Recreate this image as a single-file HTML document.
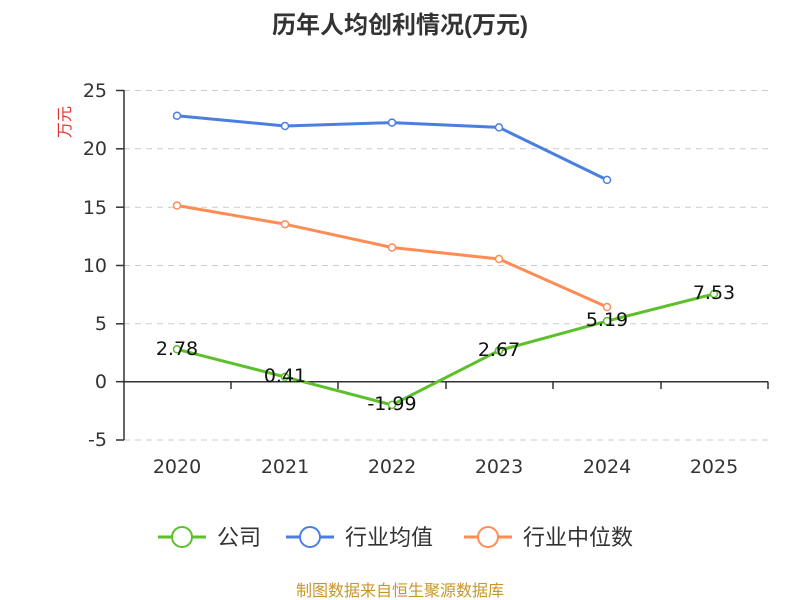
<!DOCTYPE html>
<html><head><meta charset="utf-8"><style>body{margin:0;background:#fff}svg{display:block}</style></head><body>
<svg width="800" height="600" xmlns="http://www.w3.org/2000/svg" font-family="Liberation Sans, Noto Sans CJK SC, sans-serif">
<text x="400" y="33" text-anchor="middle" font-size="24" font-weight="bold" fill="#333">历年人均创利情况(万元)</text>
<text x="70" y="122" font-size="16" fill="#e03030" text-anchor="middle" transform="rotate(-90 70 122)">万元</text>
<g stroke="#ccc" stroke-dasharray="6,5" stroke-width="1">
<line x1="124" x2="768" y1="90.5" y2="90.5"/><line x1="124" x2="768" y1="148.8" y2="148.8"/><line x1="124" x2="768" y1="207.2" y2="207.2"/><line x1="124" x2="768" y1="265.5" y2="265.5"/><line x1="124" x2="768" y1="323.8" y2="323.8"/><line x1="124" x2="768" y1="440" y2="440"/>
</g>
<g stroke="#333" stroke-width="1.5">
<line x1="124" x2="124" y1="90" y2="440"/><line x1="124" x2="768" y1="381.7" y2="381.7"/>
<line x1="116" x2="124" y1="90.5" y2="90.5"/><line x1="116" x2="124" y1="148.8" y2="148.8"/><line x1="116" x2="124" y1="207.2" y2="207.2"/><line x1="116" x2="124" y1="265.5" y2="265.5"/><line x1="116" x2="124" y1="323.8" y2="323.8"/><line x1="116" x2="124" y1="381.7" y2="381.7"/><line x1="116" x2="124" y1="440" y2="440"/>
<line x1="231" x2="231" y1="381.7" y2="389"/><line x1="338" x2="338" y1="381.7" y2="389"/><line x1="446" x2="446" y1="381.7" y2="389"/><line x1="553" x2="553" y1="381.7" y2="389"/><line x1="661" x2="661" y1="381.7" y2="389"/><line x1="768" x2="768" y1="381.7" y2="389"/>
</g>
<g font-size="19" fill="#333" text-anchor="end" font-family="DejaVu Sans, sans-serif">
<text x="107" y="97">25</text><text x="107" y="155">20</text><text x="107" y="214">15</text><text x="107" y="272">10</text><text x="107" y="330">5</text><text x="107" y="388">0</text><text x="107" y="446">-5</text>
</g>
<g font-size="19" fill="#333" text-anchor="middle" font-family="DejaVu Sans, sans-serif">
<text x="177" y="473">2020</text><text x="285" y="473">2021</text><text x="392" y="473">2022</text><text x="499" y="473">2023</text><text x="607" y="473">2024</text><text x="714" y="473">2025</text>
</g>
<polyline fill="none" stroke="#4a7fe0" stroke-width="3" points="177,115.7 285,126 392,122.6 499,127.4 607,179.9"/>
<polyline fill="none" stroke="#ff8c55" stroke-width="3" points="177,205.5 285,224.2 392,247.5 499,259 607,307"/>
<polyline fill="none" stroke="#5cc02a" stroke-width="3" points="177,349.3 285,376.9 392,404.9 499,350.5 607,321.1 714,293.9"/>
<g fill="#fff" stroke-width="1.5">
<g stroke="#4a7fe0"><circle cx="177" cy="115.7" r="3.5"/><circle cx="285" cy="126" r="3.5"/><circle cx="392" cy="122.6" r="3.5"/><circle cx="499" cy="127.4" r="3.5"/><circle cx="607" cy="179.9" r="3.5"/></g>
<g stroke="#ff8c55"><circle cx="177" cy="205.5" r="3.5"/><circle cx="285" cy="224.2" r="3.5"/><circle cx="392" cy="247.5" r="3.5"/><circle cx="499" cy="259" r="3.5"/><circle cx="607" cy="307" r="3.5"/></g>
<g stroke="#5cc02a"><circle cx="177" cy="349.3" r="3.5"/><circle cx="285" cy="376.9" r="3.5"/><circle cx="392" cy="404.9" r="3.5"/><circle cx="499" cy="350.5" r="3.5"/><circle cx="607" cy="321.1" r="3.5"/><circle cx="714" cy="293.9" r="3.5"/></g>
</g>
<g font-size="19" fill="#111" text-anchor="middle" font-family="DejaVu Sans, sans-serif">
<text x="177" y="355">2.78</text><text x="285" y="382">0.41</text><text x="392" y="410">-1.99</text><text x="499" y="356">2.67</text><text x="607" y="326">5.19</text><text x="714" y="299">7.53</text>
</g>
<g font-size="22" fill="#333">
<line x1="158" x2="206" y1="537" y2="537" stroke="#5cc02a" stroke-width="3"/><circle cx="182" cy="537" r="10" fill="#fff" stroke="#5cc02a" stroke-width="2"/><text x="217" y="545">公司</text>
<line x1="286" x2="334" y1="537" y2="537" stroke="#4a7fe0" stroke-width="3"/><circle cx="310" cy="537" r="10" fill="#fff" stroke="#4a7fe0" stroke-width="2"/><text x="345" y="545">行业均值</text>
<line x1="464" x2="512" y1="537" y2="537" stroke="#ff8c55" stroke-width="3"/><circle cx="488" cy="537" r="10" fill="#fff" stroke="#ff8c55" stroke-width="2"/><text x="523" y="545">行业中位数</text>
</g>
<text x="400" y="596" text-anchor="middle" font-size="16" fill="#c8962a">制图数据来自恒生聚源数据库</text>
</svg>
</body></html>
